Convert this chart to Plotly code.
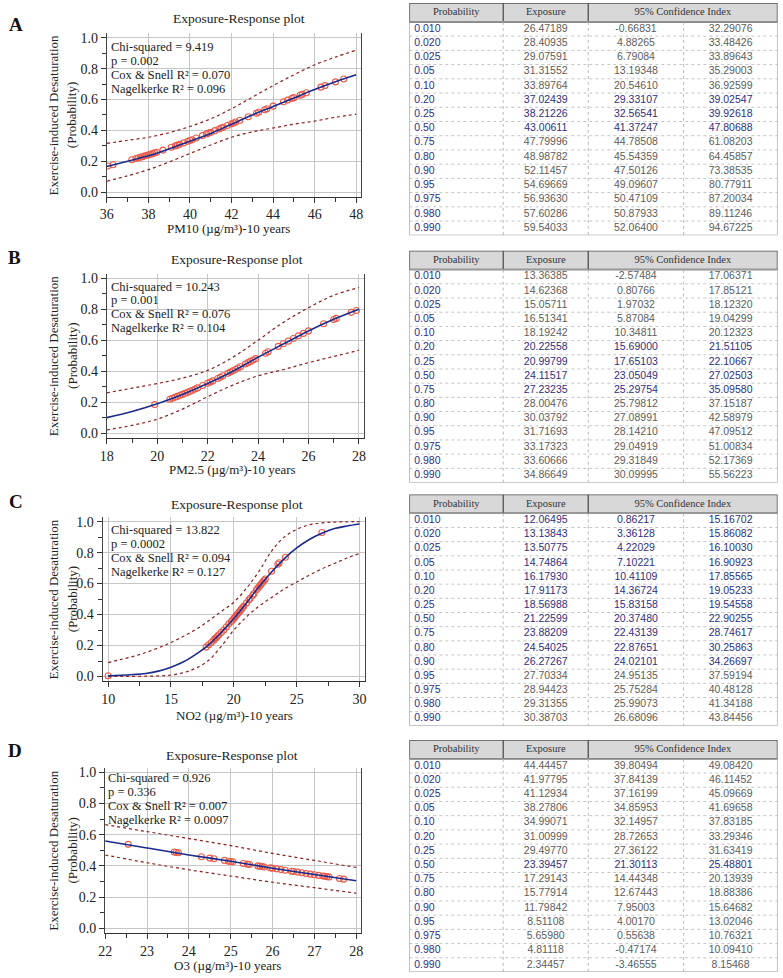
import plotly.graph_objects as go

W, H = 783, 978
SERIF = "Liberation Serif, Times New Roman, serif"
SANS = "Liberation Sans, Arial, sans-serif"

# ---------------- plot data ----------------
A_curve_x = [36, 37, 38, 39, 40, 41, 42, 43, 44, 45, 46, 47, 48]
A_fit_y = [0.165, 0.20, 0.235, 0.28, 0.33, 0.38, 0.44, 0.50, 0.555, 0.61, 0.665, 0.715, 0.76]
A_upper_y = [0.315, 0.335, 0.355, 0.385, 0.425, 0.475, 0.54, 0.615, 0.69, 0.76, 0.825, 0.875, 0.92]
A_lower_y = [0.07, 0.105, 0.145, 0.195, 0.25, 0.305, 0.355, 0.39, 0.415, 0.44, 0.46, 0.485, 0.505]
A_pts_x = [36.05, 36.3, 37.2, 37.4, 37.5, 37.6, 37.7, 37.8, 37.9, 38.0, 38.1, 38.2, 38.3, 38.4, 38.7,
           39.1, 39.3, 39.4, 39.5, 39.7, 39.9, 40.0, 40.1, 40.3, 40.6, 40.8, 40.9, 41.0, 41.2, 41.4,
           41.5, 41.6, 41.8, 42.0, 42.1, 42.2, 42.4, 42.8, 43.2, 43.3, 43.6, 43.7, 44.0, 44.5, 44.7,
           44.9, 45.0, 45.3, 45.4, 45.6, 46.3, 46.5, 47.0, 47.4]
A_pts_y = [0.169, 0.177, 0.209, 0.217, 0.221, 0.225, 0.229, 0.233, 0.237, 0.241, 0.245, 0.249, 0.254, 0.258, 0.272,
           0.290, 0.299, 0.304, 0.309, 0.319, 0.329, 0.334, 0.339, 0.350, 0.366, 0.377, 0.382, 0.387, 0.398, 0.409,
           0.415, 0.420, 0.431, 0.442, 0.448, 0.454, 0.465, 0.488, 0.511, 0.517, 0.534, 0.540, 0.557, 0.585, 0.596,
           0.607, 0.612, 0.628, 0.633, 0.644, 0.680, 0.690, 0.714, 0.733]

B_curve_x = [18, 19, 20, 21, 22, 23, 24, 25, 26, 27, 28]
B_fit_y = [0.10, 0.14, 0.19, 0.25, 0.32, 0.40, 0.49, 0.575, 0.66, 0.735, 0.80]
B_upper_y = [0.26, 0.29, 0.32, 0.355, 0.405, 0.49, 0.60, 0.715, 0.81, 0.89, 0.94]
B_lower_y = [0.02, 0.05, 0.09, 0.155, 0.235, 0.31, 0.37, 0.41, 0.455, 0.495, 0.535]
B_pts_x = [19.9, 20.5, 20.6, 20.7, 20.8, 20.9, 21.0, 21.1, 21.2, 21.3, 21.4, 21.5, 21.6, 21.8, 22.0,
           22.1, 22.2, 22.4, 22.5, 22.6, 22.8, 22.9, 23.0, 23.1, 23.2, 23.3, 23.5, 23.6, 23.7, 23.8,
           23.9, 24.3, 24.4, 24.8, 25.0, 25.2, 25.4, 25.6, 25.8, 26.0, 26.6, 27.0, 27.1, 27.7, 27.9]
B_pts_y = [0.185, 0.219, 0.225, 0.231, 0.237, 0.244, 0.250, 0.257, 0.263, 0.270, 0.277, 0.285, 0.292, 0.307, 0.322,
           0.330, 0.337, 0.353, 0.361, 0.370, 0.386, 0.394, 0.403, 0.411, 0.420, 0.429, 0.446, 0.455, 0.463, 0.472,
           0.481, 0.516, 0.525, 0.560, 0.577, 0.594, 0.611, 0.628, 0.644, 0.660, 0.706, 0.734, 0.741, 0.780, 0.792]

C_curve_x = [10, 11, 12, 13, 14, 15, 16, 17, 18, 19, 20, 21, 22, 23, 24, 25, 26, 27, 28, 29, 30]
C_fit_y = [0.005, 0.008, 0.013, 0.02, 0.035, 0.06, 0.095, 0.145, 0.205, 0.285, 0.375, 0.475, 0.58,
           0.675, 0.76, 0.83, 0.885, 0.925, 0.955, 0.972, 0.985]
C_upper_y = [0.09, 0.11, 0.13, 0.155, 0.185, 0.22, 0.26, 0.305, 0.36, 0.42, 0.48, 0.57, 0.68,
             0.81, 0.90, 0.95, 0.98, 0.992, 0.997, 0.999, 1.0]
C_lower_y = [0.0, 0.0005, 0.001, 0.002, 0.004, 0.01, 0.025, 0.055, 0.105, 0.195, 0.30, 0.385, 0.455,
             0.51, 0.565, 0.61, 0.655, 0.695, 0.73, 0.765, 0.795]
C_pts_x = [10.0, 17.8, 18.0, 18.2, 18.4, 18.5, 18.6, 18.7, 18.8, 19.0, 19.2, 19.4, 19.6, 19.8, 19.9,
           20.0, 20.1, 20.2, 20.3, 20.4, 20.5, 20.6, 20.7, 20.8, 21.0, 21.2, 21.3, 21.5, 21.6, 21.8,
           21.9, 22.0, 22.1, 22.2, 22.3, 22.4, 22.5, 23.0, 23.5, 23.6, 24.1, 27.0]
C_pts_y = [0.005, 0.19, 0.205, 0.22, 0.235, 0.245, 0.25, 0.26, 0.27, 0.285, 0.30, 0.32, 0.34, 0.355, 0.365,
           0.375, 0.385, 0.395, 0.405, 0.415, 0.425, 0.435, 0.445, 0.455, 0.475, 0.495, 0.505, 0.525, 0.535, 0.56,
           0.57, 0.58, 0.59, 0.60, 0.61, 0.62, 0.63, 0.68, 0.725, 0.735, 0.77, 0.93]

D_curve_x = [22, 23, 24, 25, 26, 27, 28]
D_fit_y = [0.56, 0.515, 0.47, 0.43, 0.385, 0.345, 0.305]
D_upper_y = [0.665, 0.62, 0.575, 0.53, 0.48, 0.435, 0.39]
D_lower_y = [0.47, 0.42, 0.375, 0.335, 0.295, 0.26, 0.225]
D_pts_x = [22.55, 23.65, 23.7, 23.75, 24.3, 24.5, 24.6, 24.85, 24.95, 25.0, 25.05, 25.3, 25.4, 25.45, 25.65,
           25.7, 25.75, 25.8, 25.95, 26.0, 26.1, 26.2, 26.3, 26.45, 26.5, 26.6, 26.7, 26.8, 26.9, 27.0,
           27.1, 27.2, 27.25, 27.3, 27.35, 27.6, 27.7]
D_pts_y = [0.538, 0.489, 0.486, 0.484, 0.459, 0.450, 0.446, 0.435, 0.430, 0.428, 0.426, 0.415, 0.411, 0.409, 0.400,
           0.398, 0.396, 0.393, 0.387, 0.385, 0.381, 0.376, 0.372, 0.366, 0.364, 0.360, 0.356, 0.351, 0.347, 0.343,
           0.339, 0.335, 0.333, 0.331, 0.329, 0.319, 0.315]

A_stats = ["Chi-squared = 9.419", "p = 0.002", "Cox & Snell R\u00b2 = 0.070", "Nagelkerke R\u00b2 = 0.096"]
B_stats = ["Chi-squared = 10.243", "p = 0.001", "Cox & Snell R\u00b2 = 0.076", "Nagelkerke R\u00b2 = 0.104"]
C_stats = ["Chi-squared = 13.822", "p = 0.0002", "Cox & Snell R\u00b2 = 0.094", "Nagelkerke R\u00b2 = 0.127"]
D_stats = ["Chi-squared = 0.926", "p = 0.336", "Cox & Snell R\u00b2 = 0.007", "Nagelkerke R\u00b2 = 0.0097"]

x_titles = ["PM10 (\u00b5g/m\u00b3)-10 years", "PM2.5 (\u00b5g/m\u00b3)-10 years",
            "NO2 (\u00b5g/m\u00b3)-10 years", "O3 (\u00b5g/m\u00b3)-10 years"]
panel_labels = ["A", "B", "C", "D"]

# ---------------- table data ----------------
prob_labels = ["0.010", "0.020", "0.025", "0.05", "0.10", "0.20", "0.25", "0.50",
               "0.75", "0.80", "0.90", "0.95", "0.975", "0.980", "0.990"]
header_labels = ["Probability", "Exposure", "95% Confidence Index"]

A_exp = [26.47189, 28.40935, 29.07591, 31.31552, 33.89764, 37.02439, 38.21226, 43.00611, 47.79996, 48.98782, 52.11457, 54.69669, 56.93630, 57.60286, 59.54033]
A_lo = [-0.66831, 4.88265, 6.79084, 13.19348, 20.54610, 29.33107, 32.56541, 41.37247, 44.78508, 45.54359, 47.50126, 49.09607, 50.47109, 50.87933, 52.06400]
A_hi = [32.29076, 33.48426, 33.89643, 35.29003, 36.92599, 39.02547, 39.92618, 47.80688, 61.08203, 64.45857, 73.38535, 80.77911, 87.20034, 89.11246, 94.67225]
A_hl = [5, 6, 7]

B_exp = [13.36385, 14.62368, 15.05711, 16.51341, 18.19242, 20.22558, 20.99799, 24.11517, 27.23235, 28.00476, 30.03792, 31.71693, 33.17323, 33.60666, 34.86649]
B_lo = [-2.57484, 0.80766, 1.97032, 5.87084, 10.34811, 15.69000, 17.65103, 23.05049, 25.29754, 25.79812, 27.08991, 28.14210, 29.04919, 29.31849, 30.09995]
B_hi = [17.06371, 17.85121, 18.12320, 19.04299, 20.12323, 21.51105, 22.10667, 27.02503, 35.09580, 37.15187, 42.58979, 47.09512, 51.00834, 52.17369, 55.56223]
B_hl = [5, 6, 7, 8]

C_exp = [12.06495, 13.13843, 13.50775, 14.74864, 16.17930, 17.91173, 18.56988, 21.22599, 23.88209, 24.54025, 26.27267, 27.70334, 28.94423, 29.31355, 30.38703]
C_lo = [0.86217, 3.36128, 4.22029, 7.10221, 10.41109, 14.36724, 15.83158, 20.37480, 22.43139, 22.87651, 24.02101, 24.95135, 25.75284, 25.99073, 26.68096]
C_hi = [15.16702, 15.86082, 16.10030, 16.90923, 17.85565, 19.05233, 19.54558, 22.90255, 28.74617, 30.25863, 34.26697, 37.59194, 40.48128, 41.34188, 43.84456]
C_hl = [0, 1, 2, 3, 4, 5, 6, 7, 8, 9, 10]

D_exp = [44.44457, 41.97795, 41.12934, 38.27806, 34.99071, 31.00999, 29.49770, 23.39457, 17.29143, 15.77914, 11.79842, 8.51108, 5.65980, 4.81118, 2.34457]
D_lo = [39.80494, 37.84139, 37.16199, 34.85953, 32.14957, 28.72653, 27.36122, 21.30113, 14.44348, 12.67443, 7.95003, 4.00170, 0.55638, -0.47174, -3.46555]
D_hi = [49.08420, 46.11452, 45.09669, 41.69658, 37.83185, 33.29346, 31.63419, 25.48801, 20.13939, 18.88386, 15.64682, 13.02046, 10.76321, 10.09410, 8.15468]
D_hl = [7]

# ---------------- layout geometry (pixels) ----------------
plots = [
    dict(cx=A_curve_x, fit=A_fit_y, up=A_upper_y, lo=A_lower_y, px=A_pts_x, py=A_pts_y, stats=A_stats,
         xv0=36, xp0=101, xv1=48, xp1=353.3, left=101, right=358, y1p=36, y0p=191,
         dtick=2, minor=1, title_xy=(235, 17), xt_xy=(224, 228), lab_xy=(9, 23), st_xy=(103, 45)),
    dict(cx=B_curve_x, fit=B_fit_y, up=B_upper_y, lo=B_lower_y, px=B_pts_x, py=B_pts_y, stats=B_stats,
         xv0=18, xp0=101, xv1=28, xp1=356, left=101, right=361, y1p=277.7, y0p=433.3,
         dtick=2, minor=1, title_xy=(233, 259), xt_xy=(228, 470), lab_xy=(8, 257), st_xy=(103, 286)),
    dict(cx=C_curve_x, fit=C_fit_y, up=C_upper_y, lo=C_lower_y, px=C_pts_x, py=C_pts_y, stats=C_stats,
         xv0=10, xp0=102.3, xv1=30, xp1=356.7, left=96.7, right=361.7, y1p=522.3, y0p=678,
         dtick=5, minor=2.5, title_xy=(233, 505), xt_xy=(230, 717), lab_xy=(9, 502), st_xy=(103, 531)),
    dict(cx=D_curve_x, fit=D_fit_y, up=D_upper_y, lo=D_lower_y, px=D_pts_x, py=D_pts_y, stats=D_stats,
         xv0=22, xp0=99.3, xv1=28, xp1=353.3, left=99.3, right=358.3, y1p=774.3, y0p=931,
         dtick=1, minor=0.5, title_xy=(228, 757), xt_xy=(223, 968), lab_xy=(8, 752), st_xy=(100, 780)),
]

tables = [
    dict(exp=A_exp, lo=A_lo, hi=A_hi, hl=A_hl, top=1, bottom=234.5),
    dict(exp=B_exp, lo=B_lo, hi=B_hi, hl=B_hl, top=250, bottom=483),
    dict(exp=C_exp, lo=C_lo, hi=C_hi, hl=C_hl, top=495, bottom=727.5),
    dict(exp=D_exp, lo=D_lo, hi=D_hi, hl=D_hl, top=741.7, bottom=975),
]
TBL_LEFT, TBL_RIGHT = 407, 779.5
COLS = [0, 95, 181, 277.5, 372.5]
HDR_PX = 19

NAVY = "#2e2e80"
GREY_TXT = "#5c5c5c"
BLUE = "#1c2a8c"
DARKRED = "#8b1f1f"
MARK = "#ec5a48"


def fx(p):
    return p / W


def fy(p):
    return 1 - p / H


fig = go.Figure()
layout = dict(width=W, height=H, autosize=False, margin=dict(l=0, r=0, t=0, b=0),
              paper_bgcolor="white", plot_bgcolor="white", showlegend=False)
annotations = []
shapes = []

for i, p in enumerate(plots):
    n = i + 1
    xa = "x" if n == 1 else f"x{n}"
    ya = "y" if n == 1 else f"y{n}"
    scale = (p["xp1"] - p["xp0"]) / (p["xv1"] - p["xv0"])
    xr = [p["xv0"] - (p["xp0"] - p["left"]) / scale, p["xv1"] + (p["right"] - p["xp1"]) / scale]
    span = p["y0p"] - p["y1p"]
    ymin, ymax = -0.03, 1.03
    top_px = p["y1p"] - (ymax - 1) * span
    bot_px = p["y0p"] - ymin * span

    fig.add_trace(go.Scatter(x=p["px"], y=p["py"], mode="markers", xaxis=xa, yaxis=ya,
                             marker=dict(symbol="circle-open", size=6, color=MARK, line=dict(width=1.1)),
                             hoverinfo="skip"))
    for key in ("up", "lo"):
        fig.add_trace(go.Scatter(x=p["cx"], y=p[key], mode="lines", xaxis=xa, yaxis=ya,
                                 line=dict(color=DARKRED, width=1.2, dash="dot", shape="spline"),
                                 hoverinfo="skip"))
    fig.add_trace(go.Scatter(x=p["cx"], y=p["fit"], mode="lines", xaxis=xa, yaxis=ya,
                             line=dict(color=BLUE, width=1.6, shape="spline"), hoverinfo="skip"))

    tick_font = dict(family=SERIF, size=14, color="#222")
    layout["xaxis" if n == 1 else f"xaxis{n}"] = dict(
        domain=[fx(p["left"]), fx(p["right"])], anchor=ya, range=xr,
        tick0=p["xv0"], dtick=p["dtick"], showgrid=True, gridcolor="#c6c6c6", gridwidth=1,
        showline=True, linecolor="#333", linewidth=1, ticks="outside", ticklen=5, tickcolor="#333",
        minor=dict(dtick=p["minor"], tick0=p["xv0"], ticks="outside", ticklen=4, tickcolor="#333", showgrid=False),
        zeroline=False, tickfont=tick_font, fixedrange=True)
    layout["yaxis" if n == 1 else f"yaxis{n}"] = dict(
        domain=[fy(bot_px), fy(top_px)], anchor=xa, range=[ymin, ymax],
        tick0=0, dtick=0.2, tickformat=".1f", showgrid=True, gridcolor="#c6c6c6", gridwidth=1,
        showline=True, linecolor="#444", linewidth=1, mirror=True, ticks="outside", ticklen=5, tickcolor="#333",
        minor=dict(dtick=0.1, tick0=0, ticks="outside", ticklen=4, tickcolor="#333", showgrid=False),
        zeroline=False, tickfont=tick_font, fixedrange=True)

    tx, ty = p["title_xy"]
    annotations.append(dict(text="Exposure-Response plot", x=fx(tx), y=fy(ty), xref="paper", yref="paper",
                            showarrow=False, xanchor="center", yanchor="middle",
                            font=dict(family=SERIF, size=13.5, color="#222")))
    xx, xy = p["xt_xy"]
    annotations.append(dict(text=x_titles[i], x=fx(xx), y=fy(xy), xref="paper", yref="paper",
                            showarrow=False, xanchor="center", yanchor="middle",
                            font=dict(family=SERIF, size=13, color="#222")))
    ymid = (p["y1p"] + p["y0p"]) / 2
    annotations.append(dict(text="Exercise-induced Desaturation", x=fx(47), y=fy(ymid), xref="paper",
                            yref="paper", showarrow=False, textangle=-90, xanchor="center", yanchor="middle",
                            font=dict(family=SERIF, size=13, color="#222")))
    annotations.append(dict(text="(Probability)", x=fx(66), y=fy(ymid), xref="paper",
                            yref="paper", showarrow=False, textangle=-90, xanchor="center", yanchor="middle",
                            font=dict(family=SERIF, size=13, color="#222")))
    lx, ly = p["lab_xy"]
    annotations.append(dict(text=f"<b>{panel_labels[i]}</b>", x=fx(lx), y=fy(ly), xref="paper", yref="paper",
                            showarrow=False, xanchor="center", yanchor="middle",
                            font=dict(family=SERIF, size=19, color="#111")))
    sx, sy = p["st_xy"]
    for k, line in enumerate(p["stats"]):
        annotations.append(dict(text=line, x=fx(sx), y=fy(sy + 14 * k), xref="paper", yref="paper",
                                showarrow=False, xanchor="left", yanchor="middle",
                                font=dict(family=SERIF, size=12.5, color="#222")))

# ---------------- tables ----------------
nrows = len(prob_labels)
for i, t in enumerate(tables):
    n = i + 5
    xa, ya = f"x{n}", f"y{n}"
    rh = (t["bottom"] - t["top"] - HDR_PX) / nrows
    hdr = HDR_PX / rh
    layout[f"xaxis{n}"] = dict(domain=[fx(TBL_LEFT), fx(TBL_RIGHT)], anchor=ya, range=[COLS[0], COLS[-1]],
                               visible=False, fixedrange=True)
    layout[f"yaxis{n}"] = dict(domain=[fy(t["bottom"]), fy(t["top"])], anchor=xa,
                               range=[nrows - 0.5, -0.5 - hdr], visible=False, fixedrange=True)
    rows = list(range(nrows))
    colors = [NAVY if r in t["hl"] else GREY_TXT for r in rows]

    shapes.append(dict(type="rect", xref=xa, yref=ya, x0=COLS[0], x1=COLS[-1], y0=-0.5 - hdr, y1=-0.5,
                       fillcolor="#d8d8d8", line=dict(color="#505050", width=1.5), layer="below"))
    for cx in (COLS[1], COLS[2]):
        shapes.append(dict(type="line", xref=xa, yref=ya, x0=cx, x1=cx, y0=-0.5 - hdr, y1=-0.5,
                           line=dict(color="#505050", width=1.3)))
    for cx in (COLS[1], COLS[2], COLS[3]):
        shapes.append(dict(type="line", xref=xa, yref=ya, x0=cx, x1=cx, y0=-0.5, y1=nrows - 0.5,
                           line=dict(color="#b8b8b8", width=1, dash="dot")))
    for r in range(nrows - 1):
        shapes.append(dict(type="line", xref=xa, yref=ya, x0=COLS[0], x1=COLS[-1], y0=r + 0.5, y1=r + 0.5,
                           line=dict(color="#c4c4c4", width=1, dash="dot")))
    shapes.append(dict(type="rect", xref=xa, yref=ya, x0=COLS[0], x1=COLS[-1], y0=-0.5, y1=nrows - 0.5,
                       line=dict(color="#9a9a9a", width=1.2)))

    hdr_y = -0.5 - hdr / 2
    fig.add_trace(go.Scatter(
        x=[(COLS[0] + COLS[1]) / 2, (COLS[1] + COLS[2]) / 2, (COLS[2] + COLS[4]) / 2],
        y=[hdr_y] * 3, text=header_labels, mode="text", xaxis=xa, yaxis=ya,
        textfont=dict(family=SERIF, size=10.5, color="#333"), hoverinfo="skip"))
    fig.add_trace(go.Scatter(
        x=[COLS[0] + 5] * nrows, y=rows, text=prob_labels, mode="text", textposition="middle right",
        xaxis=xa, yaxis=ya, textfont=dict(family=SANS, size=10.5, color=NAVY), hoverinfo="skip"))
    for c, vals in enumerate((t["exp"], t["lo"], t["hi"])):
        fig.add_trace(go.Scatter(
            x=[(COLS[c + 1] + COLS[c + 2]) / 2] * nrows, y=rows, text=[f"{v:.5f}" for v in vals],
            mode="text", textposition="middle center", xaxis=xa, yaxis=ya,
            textfont=dict(family=SANS, size=10.5, color=colors), hoverinfo="skip"))

layout["annotations"] = annotations
layout["shapes"] = shapes
fig.update_layout(**layout)
fig.write_html("out.html", config={"displayModeBar": False, "staticPlot": True},
               post_script="document.body.style.margin='0px';document.body.style.overflow='hidden';")
